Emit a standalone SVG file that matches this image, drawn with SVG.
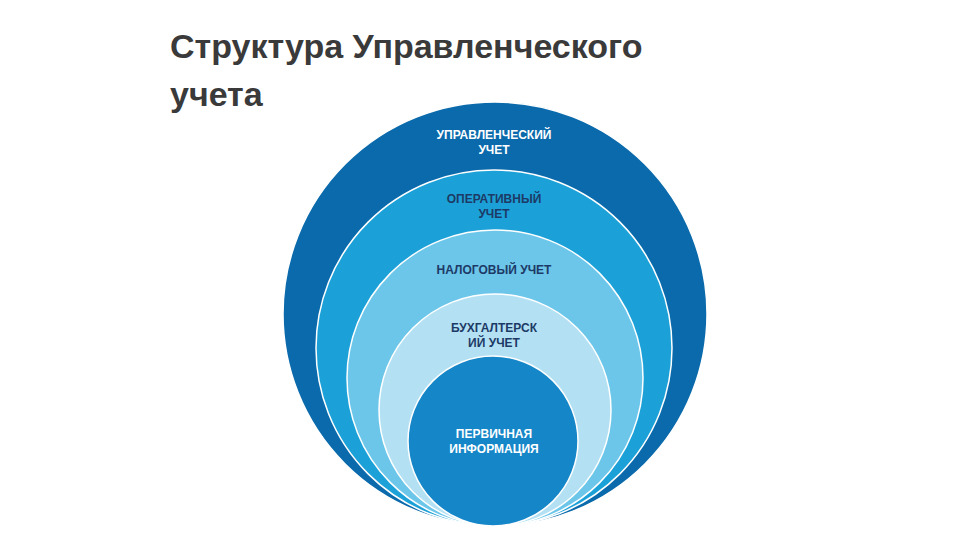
<svg xmlns="http://www.w3.org/2000/svg" width="960" height="540" viewBox="0 0 960 540">
<style>
.c{stroke:#fff;stroke-width:1.5}
.t{font-family:"Liberation Sans",Arial,sans-serif;font-weight:bold;font-size:12px;text-anchor:middle}
.w{fill:#fff}.d{fill:#1d3a66}
</style>
<rect width="960" height="540" fill="#fff"/>
<g id="title" font-family="Liberation Sans,Arial,sans-serif" font-weight="bold" font-size="34" fill="#3a3a3a">
<text x="170" y="58">Структура Управленческого</text>
<text x="170" y="106">учета</text>
</g>
<g id="n1"><circle class="c" cx="495" cy="314" r="212" fill="#0b6aab"/><text class="t w" x="494" y="139">УПРАВЛЕНЧЕСКИЙ</text><text class="t w" x="494" y="154">УЧЕТ</text></g>
<g id="n2"><circle class="c" cx="494" cy="348" r="178" fill="#1ba1d8"/><text class="t d" x="494" y="203">ОПЕРАТИВНЫЙ</text><text class="t d" x="494" y="218">УЧЕТ</text></g>
<g id="n3"><circle class="c" cx="495" cy="378" r="148" fill="#6cc6ea"/><text class="t d" x="494" y="274">НАЛОГОВЫЙ УЧЕТ</text></g>
<g id="n4"><circle class="c" cx="495" cy="410" r="116" fill="#b3e1f3"/><text class="t d" x="494" y="332">БУХГАЛТЕРСК</text><text class="t d" x="494" y="347">ИЙ УЧЕТ</text></g>
<g id="n5"><circle class="c" cx="493" cy="441" r="85" fill="#1586c7"/><text class="t w" x="494" y="438">ПЕРВИЧНАЯ</text><text class="t w" x="494" y="453">ИНФОРМАЦИЯ</text></g>
<g id="connectors"/>
</svg>
